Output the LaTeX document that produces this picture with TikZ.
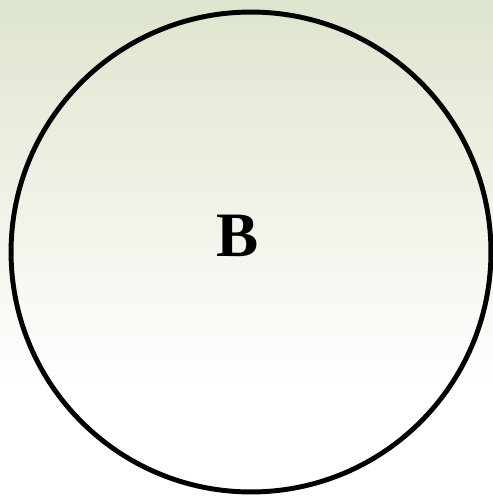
\documentclass[tikz,border=0pt]{standalone}
\usepackage{fontspec}
\setmainfont{Liberation Serif}
\usetikzlibrary{positioning}

\definecolor{bgtop}{RGB}{222,229,206}
% tikz fits the path to the middle 50bp of the shading
\pgfdeclareverticalshading{bgfade}{100bp}{color(0bp)=(white); color(36bp)=(white); color(75bp)=(bgtop); color(100bp)=(bgtop)}

\tikzset{
  ring/.style={circle,draw=black,line width=2.8pt,minimum size=9.6cm,inner sep=0pt},
  letter/.style={font=\fontsize{36}{40}\selectfont\bfseries}
}

\begin{document}
\begin{tikzpicture}[x=0.02cm,y=-0.02cm]
% background fade
\shade[shading=bgfade] (0,0) rectangle (493,497);
\useasboundingbox (0,0) rectangle (493,497);
\node[ring] (bigB) at (251,252) {};
\node[letter] (lblB) at (238,236) {B};
\end{tikzpicture}
\end{document}
